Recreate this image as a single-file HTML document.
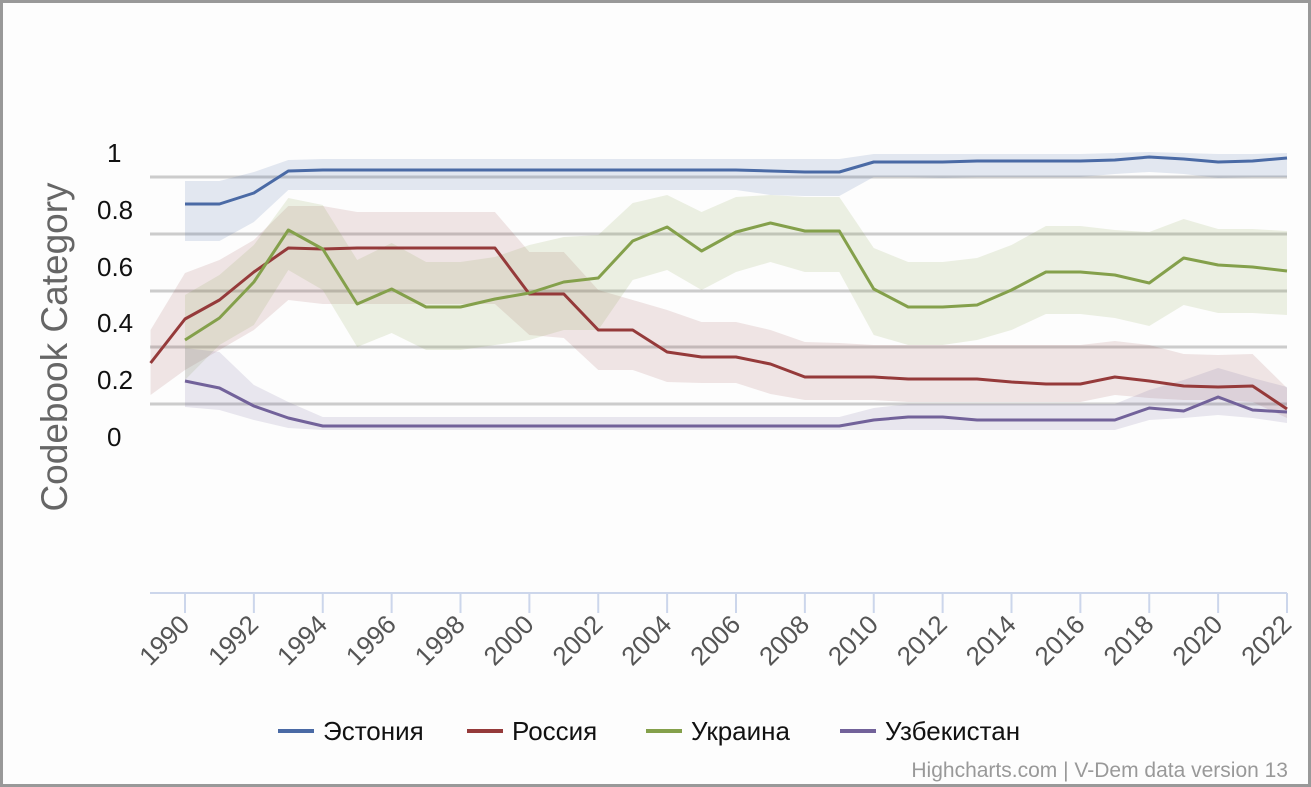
<!DOCTYPE html>
<html><head><meta charset="utf-8"><style>
html,body{margin:0;padding:0;background:#fff}
svg{display:block}
</style></head><body>
<svg id="s" width="1311" height="787" xmlns="http://www.w3.org/2000/svg" font-family="Liberation Sans, DejaVu Sans, sans-serif">
<rect x="1.5" y="1.5" width="1308" height="784" fill="#fdfdfd" stroke="#999" stroke-width="3"/>
<g id="grid" stroke="#cccccc" stroke-width="3">
<line x1="150" x2="1287" y1="177" y2="177"/><line x1="150" x2="1287" y1="234" y2="234"/><line x1="150" x2="1287" y1="291" y2="291"/><line x1="150" x2="1287" y1="347" y2="347"/><line x1="150" x2="1287" y1="404" y2="404"/>
</g>
<g font-size="26" fill="#111">
<text x="107" y="162">1</text><text x="97" y="219">0.8</text><text x="97" y="276">0.6</text><text x="97" y="332">0.4</text><text x="97" y="389">0.2</text><text x="107" y="446">0</text>
</g>
<text transform="translate(67,347) rotate(-90)" text-anchor="middle" font-size="37" fill="#666">Codebook Category</text>
<g id="bands"></g><g id="lines"></g>
<line x1="150" x2="1287" y1="593" y2="593" stroke="#ccd6eb" stroke-width="2"/>
<g id="ticks"></g>
<g font-size="26" fill="#111">
<line x1="278" x2="314" y1="731" y2="731" stroke="#4a6aa5" stroke-width="4"/><text x="323" y="740">Эстония</text>
<line x1="467" x2="503" y1="731" y2="731" stroke="#953a3a" stroke-width="4"/><text x="512" y="740">Россия</text>
<line x1="646" x2="682" y1="731" y2="731" stroke="#84a04b" stroke-width="4"/><text x="691" y="740">Украина</text>
<line x1="840" x2="876" y1="731" y2="731" stroke="#72629a" stroke-width="4"/><text x="885" y="740">Узбекистан</text>
</g>
<text x="1288" y="777" text-anchor="end" font-size="21" fill="#999">Highcharts.com | V-Dem data version 13</text>
</svg>
<script>
const NS="http://www.w3.org/2000/svg";
const X=y=>185+(y-1990)*34.4375;
function el(p,t,a){const e=document.createElementNS(NS,t);for(const k in a)e.setAttribute(k,a[k]);p.appendChild(e);return e;}
function series(start,vals){return vals.map((v,i)=>[X(start+i),v]);}
const S=[
{c:"#4a6aa5",f:"rgba(74,106,165,0.15)",s:1990,
 l:[204,204,193,171,170,170,170,170,170,170,170,170,170,170,170,170,170,171,172,172,162,162,162,161,161,161,161,160,157,159,162,161,158],
 u:[181,181,172,160,159,159,159,159,159,159,159,159,159,159,159,159,159,159,159,159,154,154,154,154,154,154,154,153,152,153,154,154,153],
 d:[241,241,222,190,190,190,190,190,190,190,190,190,190,190,190,190,190,195,196,196,177,177,178,177,177,177,177,174,172,174,178,177,177]},
{c:"#953a3a",f:"rgba(149,58,58,0.13)",s:1989,
 l:[363,319,300,272,248,249,248,248,248,248,248,294,294,330,330,352,357,357,364,377,377,377,379,379,379,382,384,384,377,381,386,387,386,409],
 u:[330,273,260,240,206,206,212,212,212,212,212,252,252,290,300,310,322,322,330,342,343,345,345,345,345,345,345,345,341,345,354,355,354,388],
 d:[395,370,350,330,300,304,304,304,304,304,304,335,338,370,370,382,383,383,394,400,400,400,402,402,402,402,402,402,395,398,400,400,402,418]},
{c:"#84a04b",f:"rgba(132,160,75,0.15)",s:1990,
 l:[340,318,282,230,249,304,289,307,307,299,293,282,278,241,227,251,232,223,231,231,289,307,307,305,290,272,272,275,283,258,265,267,271],
 u:[295,275,245,198,205,260,243,262,262,257,245,237,235,203,195,212,197,195,197,197,248,262,262,258,245,226,226,230,232,219,229,229,231],
 d:[380,345,325,270,290,347,333,350,350,345,340,330,330,280,270,290,272,262,272,272,335,345,345,340,330,314,314,318,326,305,313,313,315]},
{c:"#72629a",f:"rgba(114,98,154,0.15)",s:1990,
 l:[381,388,406,418,426,426,426,426,426,426,426,426,426,426,426,426,426,426,426,426,420,417,417,420,420,420,420,420,408,411,397,410,412],
 u:[348,352,385,402,417,417,417,417,417,417,417,417,417,417,417,417,417,417,417,417,408,404,404,404,404,404,404,404,390,380,368,378,387],
 d:[407,410,420,428,430,430,430,430,430,430,430,430,430,430,430,430,430,430,430,430,430,430,430,430,430,430,430,430,420,418,415,418,423]}
];
const B=document.getElementById("bands"),L=document.getElementById("lines");
S.forEach(s=>{
 const u=series(s.s,s.u),d=series(s.s,s.d).reverse();
 el(B,"polygon",{points:u.concat(d).map(p=>p.join(",")).join(" "),fill:s.f});
});
S.forEach(s=>{
 el(L,"polyline",{points:series(s.s,s.l).map(p=>p.join(",")).join(" "),fill:"none",stroke:s.c,"stroke-width":3,"stroke-linejoin":"round"});
});
const T=document.getElementById("ticks");
for(let y=1990;y<=2022;y+=2){const x=X(y);
 el(T,"line",{x1:x,x2:x,y1:593,y2:613,stroke:"#ccd6eb","stroke-width":2});
 const t=el(T,"text",{x:x+6,y:626,"text-anchor":"end","font-size":"26",fill:"#555",transform:`rotate(-45 ${x+6} 626)`});t.textContent=y;}
</script>
</body></html>
